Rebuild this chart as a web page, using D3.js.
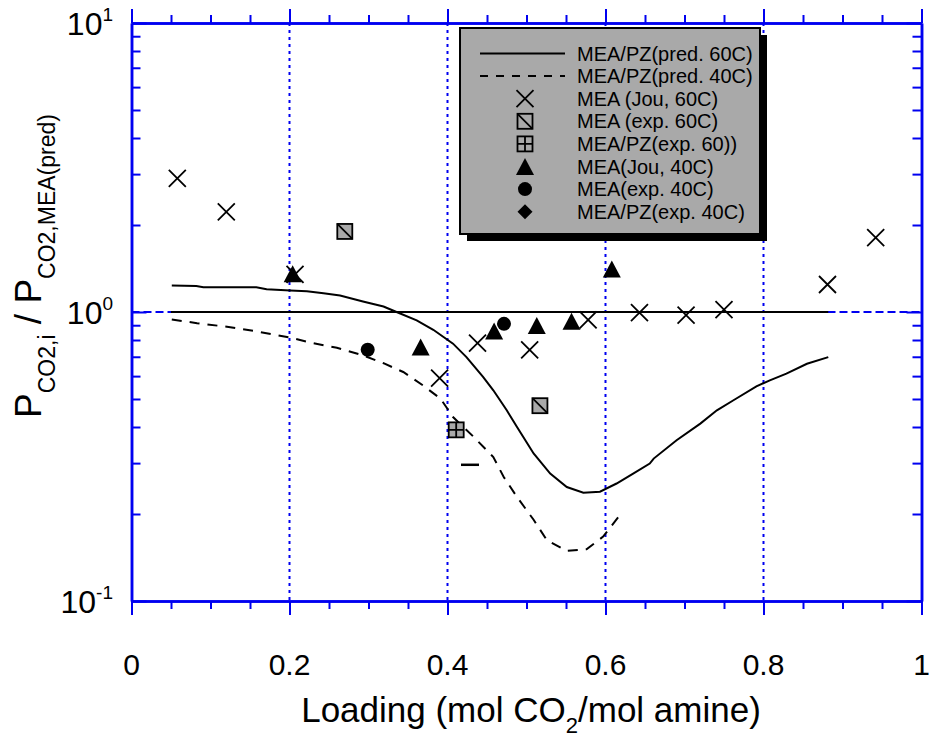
<!DOCTYPE html>
<html>
<head>
<meta charset="utf-8">
<script src="https://cdn.jsdelivr.net/npm/d3@7"></script>
<style>
  body { margin: 0; background: #ffffff; }
  text { font-family: "Liberation Sans", Arial, Helvetica, sans-serif; fill: #000; }
</style>
</head>
<body>
<svg id="chart" width="929" height="738"></svg>
<script>
// ---- data: CO2 partial pressure ratio vs. loading ----
// predicted curves (MEA/PZ relative to MEA prediction)
const pred60Loading = [0.051, 0.082, 0.091, 0.158, 0.171, 0.201, 0.222, 0.243, 0.264, 0.293, 0.319, 0.334, 0.361, 0.382,
  0.407, 0.424, 0.445, 0.458, 0.475, 0.488, 0.509, 0.530, 0.551, 0.572, 0.593, 0.614, 0.635, 0.656, 0.661, 0.690,
  0.720, 0.741, 0.762, 0.791, 0.808, 0.829, 0.855, 0.882];
const pred60Ratio = [1.235, 1.230, 1.218, 1.218, 1.199, 1.186, 1.180, 1.161, 1.140, 1.087, 1.045, 1.004, 0.935, 0.868,
  0.777, 0.698, 0.596, 0.536, 0.457, 0.400, 0.324, 0.276, 0.248, 0.237, 0.239, 0.255, 0.276, 0.299, 0.311, 0.360,
  0.411, 0.457, 0.495, 0.553, 0.580, 0.612, 0.662, 0.698];
const pred40Loading = [0.051, 0.083, 0.125, 0.159, 0.201, 0.230, 0.260, 0.293, 0.319, 0.344, 0.369, 0.391, 0.407,
  0.433, 0.458, 0.471, 0.488, 0.509, 0.526, 0.551, 0.576, 0.597, 0.618];
const pred40Ratio = [0.942, 0.915, 0.886, 0.856, 0.815, 0.780, 0.752, 0.708, 0.665, 0.620, 0.557, 0.502, 0.433,
  0.370, 0.315, 0.269, 0.229, 0.191, 0.162, 0.149, 0.151, 0.167, 0.198];
// MEA prediction reference (ratio = 1)
const meaRefLoading = [0.05, 0.882];
const meaRefRatio = [1, 1];

// measured / literature points
const jou60Loading = [0.058, 0.120, 0.207, 0.390, 0.438, 0.504, 0.578, 0.643, 0.702, 0.750, 0.881, 0.942];
const jou60Ratio = [2.90, 2.22, 1.35, 0.59, 0.78, 0.74, 0.94, 0.995, 0.975, 1.02, 1.245, 1.81];
const exp60Loading = [0.270, 0.517];
const exp60Ratio = [1.90, 0.474];
const pzExp60Loading = [0.411];
const pzExp60Ratio = [0.391];
const jou40Loading = [0.204, 0.366, 0.459, 0.513, 0.557, 0.608];
const jou40Ratio = [1.355, 0.756, 0.86, 0.898, 0.929, 1.41];
const exp40Loading = [0.299, 0.4715];
const exp40Ratio = [0.740, 0.91];
const pzExp40Loading = [];
const pzExp40Ratio = [];
const barLoading = [0.4285];
const barRatio = [0.296];

// axis ticks
const xMajorTicks = [0, 0.2, 0.4, 0.6, 0.8, 1];
const xMinorTicks = [0.05, 0.1, 0.15, 0.25, 0.3, 0.35, 0.45, 0.5, 0.55, 0.65, 0.7, 0.75, 0.85, 0.9, 0.95];
const yMajorTicks = [0.1, 1, 10];
const yMinorTicks = [0.2, 0.3, 0.4, 0.5, 0.6, 0.7, 0.8, 0.9, 2, 3, 4, 5, 6, 7, 8, 9];
const xTickLabels = ["0", "0.2", "0.4", "0.6", "0.8", "1"];
const yTickExponents = ["-1", "0", "1"];
const xGridValues = [0.2, 0.4, 0.6, 0.8];

const legendItems = [
  { label: "MEA/PZ(pred. 60C)", kind: "solid" },
  { label: "MEA/PZ(pred. 40C)", kind: "dashed" },
  { label: "MEA (Jou, 60C)", kind: "cross" },
  { label: "MEA (exp. 60C)", kind: "slashSquare" },
  { label: "MEA/PZ(exp. 60))", kind: "gridSquare" },
  { label: "MEA(Jou, 40C)", kind: "triangle" },
  { label: "MEA(exp. 40C)", kind: "circle" },
  { label: "MEA/PZ(exp. 40C)", kind: "diamond" }
];

// ---- layout ----
const BLUE = "#0000f0";
const GREY = "#a9a9a9";
const svg = d3.select("#chart");
const plotLeft = 131.5, plotRight = 921.5, plotTop = 23, plotBottom = 601;

const x = d3.scaleLinear().domain([0, 1]).range([plotLeft, plotRight]);
const y = d3.scaleLog().domain([0.1, 10]).range([plotBottom, plotTop]);

// ---- grid ----
const grid = svg.append("g");
grid.selectAll("line.vg").data(xGridValues).join("line")
  .attr("x1", d => x(d)).attr("x2", d => x(d))
  .attr("y1", plotTop).attr("y2", plotBottom)
  .attr("stroke", BLUE).attr("stroke-width", 2).attr("stroke-dasharray", "3,4");
grid.append("line")
  .attr("x1", plotLeft).attr("x2", plotRight).attr("y1", y(1)).attr("y2", y(1))
  .attr("stroke", BLUE).attr("stroke-width", 2).attr("stroke-dasharray", "8,4");

// ---- axes ----
function styleAxis(g) {
  g.select(".domain").attr("stroke", BLUE).attr("stroke-width", 2.5);
  g.selectAll(".tick line").attr("stroke", BLUE).attr("stroke-width", 2);
  g.selectAll(".tick text").remove();
}
const noLabel = () => "";
svg.append("g").attr("transform", `translate(0,${plotBottom})`)
  .call(d3.axisBottom(x).tickValues(xMinorTicks).tickSize(8).tickSizeOuter(0).tickFormat(noLabel)).call(styleAxis);
svg.append("g").attr("transform", `translate(0,${plotBottom})`)
  .call(d3.axisBottom(x).tickValues(xMajorTicks).tickSize(14).tickSizeOuter(0).tickFormat(noLabel)).call(styleAxis);
svg.append("g").attr("transform", `translate(0,${plotTop})`)
  .call(d3.axisTop(x).tickValues(xMinorTicks).tickSize(8).tickSizeOuter(0).tickFormat(noLabel)).call(styleAxis);
svg.append("g").attr("transform", `translate(0,${plotTop})`)
  .call(d3.axisTop(x).tickValues(xMajorTicks).tickSize(14).tickSizeOuter(0).tickFormat(noLabel)).call(styleAxis);
svg.append("g").attr("transform", `translate(${plotLeft},0)`)
  .call(d3.axisLeft(y).tickValues(yMinorTicks).tickSize(-9).tickSizeOuter(0).tickFormat(noLabel)).call(styleAxis);
svg.append("g").attr("transform", `translate(${plotLeft},0)`)
  .call(d3.axisLeft(y).tickValues(yMajorTicks).tickSize(-15).tickSizeOuter(0).tickFormat(noLabel)).call(styleAxis);
svg.append("g").attr("transform", `translate(${plotRight},0)`)
  .call(d3.axisRight(y).tickValues(yMinorTicks).tickSize(-9).tickSizeOuter(0).tickFormat(noLabel)).call(styleAxis);
svg.append("g").attr("transform", `translate(${plotRight},0)`)
  .call(d3.axisRight(y).tickValues(yMajorTicks).tickSize(-15).tickSizeOuter(0).tickFormat(noLabel)).call(styleAxis);

// tick labels
svg.append("g").selectAll("text").data(xMajorTicks).join("text")
  .attr("x", d => x(d)).attr("y", 675)
  .attr("text-anchor", "middle").attr("font-size", 30)
  .text((d, i) => xTickLabels[i]);

const yLab = svg.append("g").selectAll("text").data(yMajorTicks).join("text")
  .attr("x", 113).attr("y", d => y(d) + 12)
  .attr("text-anchor", "end").attr("font-size", 32);
yLab.append("tspan").text("10");
yLab.append("tspan").attr("dy", -14).attr("font-size", 19).text((d, i) => yTickExponents[i]);

// axis titles
const xt = svg.append("text").attr("x", 531).attr("y", 722)
  .attr("text-anchor", "middle").attr("font-size", 35);
xt.append("tspan").text("Loading (mol CO");
xt.append("tspan").attr("dy", 11).attr("font-size", 22).text("2");
xt.append("tspan").attr("dy", -11).text("/mol amine)");

const yt = svg.append("text").attr("transform", "translate(41,266) rotate(-90)")
  .attr("text-anchor", "middle").attr("font-size", 37);
yt.append("tspan").text("P");
yt.append("tspan").attr("dy", 14).attr("font-size", 23).text("CO2,i");
yt.append("tspan").attr("dy", -14).text(" / P");
yt.append("tspan").attr("dy", 14).attr("font-size", 23).text("CO2,MEA(pred)");

// ---- lines ----
const line = d3.line().x(d => x(d[0])).y(d => y(d[1]));
const plot = svg.append("g");
plot.append("path").datum(d3.zip(meaRefLoading, meaRefRatio))
  .attr("d", line).attr("fill", "none").attr("stroke", "#000").attr("stroke-width", 2);
plot.append("path").datum(d3.zip(pred60Loading, pred60Ratio))
  .attr("d", line).attr("fill", "none").attr("stroke", "#000").attr("stroke-width", 2);
plot.append("path").datum(d3.zip(pred40Loading, pred40Ratio))
  .attr("d", line).attr("fill", "none").attr("stroke", "#000").attr("stroke-width", 2)
  .attr("stroke-dasharray", "10,8");

// ---- markers ----
function drawMarker(g, kind) {
  if (kind === "cross") {
    const s = 8.5;
    g.append("path").attr("d", `M${-s},${-s}L${s},${s}M${-s},${s}L${s},${-s}`)
      .attr("stroke", "#000").attr("stroke-width", 1.8).attr("fill", "none");
  } else if (kind === "slashSquare" || kind === "gridSquare") {
    const s = 7.5;
    g.append("rect").attr("x", -s).attr("y", -s).attr("width", 2 * s).attr("height", 2 * s)
      .attr("fill", GREY).attr("stroke", "#000").attr("stroke-width", 1.8);
    const d = kind === "slashSquare" ? `M${-s},${-s}L${s},${s}` : `M0,${-s}L0,${s}M${-s},0L${s},0`;
    g.append("path").attr("d", d).attr("stroke", "#000").attr("stroke-width", 1.8);
  } else if (kind === "triangle") {
    const w = 9, h = 8.5;
    g.append("path").attr("d", `M0,${-h}L${w},${h}L${-w},${h}Z`).attr("fill", "#000");
  } else if (kind === "circle") {
    g.append("circle").attr("r", 7).attr("fill", "#000");
  } else if (kind === "diamond") {
    const s = 7.5;
    g.append("path").attr("d", `M0,${-s}L${s},0L0,${s}L${-s},0Z`).attr("fill", "#000");
  } else if (kind === "bar") {
    g.append("path").attr("d", "M-9,0L9,0").attr("stroke", "#000").attr("stroke-width", 2.5);
  }
}
function drawSeries(xs, ys, kind) {
  plot.append("g").selectAll("g").data(d3.zip(xs, ys)).join("g")
    .attr("transform", d => `translate(${x(d[0])},${y(d[1])})`)
    .each(function () { drawMarker(d3.select(this), kind); });
}
drawSeries(barLoading, barRatio, "bar");
drawSeries(jou60Loading, jou60Ratio, "cross");
drawSeries(exp60Loading, exp60Ratio, "slashSquare");
drawSeries(pzExp60Loading, pzExp60Ratio, "gridSquare");
drawSeries(exp40Loading, exp40Ratio, "circle");
drawSeries(jou40Loading, jou40Ratio, "triangle");
drawSeries(pzExp40Loading, pzExp40Ratio, "diamond");

// ---- legend ----
const lg = svg.append("g");
const lgX = 460, lgY = 28, lgW = 300, lgH = 206;
lg.append("rect").attr("x", lgX + 7).attr("y", lgY + 7).attr("width", lgW).attr("height", lgH).attr("fill", "#000");
lg.append("rect").attr("x", lgX).attr("y", lgY).attr("width", lgW).attr("height", lgH)
  .attr("fill", GREY).attr("stroke", "#000").attr("stroke-width", 2);
legendItems.forEach((it, i) => {
  const cy = 53.5 + i * 22.6;
  const row = lg.append("g");
  if (it.kind === "solid" || it.kind === "dashed") {
    row.append("line").attr("x1", 480).attr("x2", 565).attr("y1", cy).attr("y2", cy)
      .attr("stroke", "#000").attr("stroke-width", 2)
      .attr("stroke-dasharray", it.kind === "dashed" ? "8,8" : null);
  } else {
    drawMarker(row.append("g").attr("transform", `translate(525,${cy})`), it.kind);
  }
  row.append("text").attr("x", 577).attr("y", cy + 7).attr("font-size", 20).text(it.label);
});
</script>
</body>
</html>
